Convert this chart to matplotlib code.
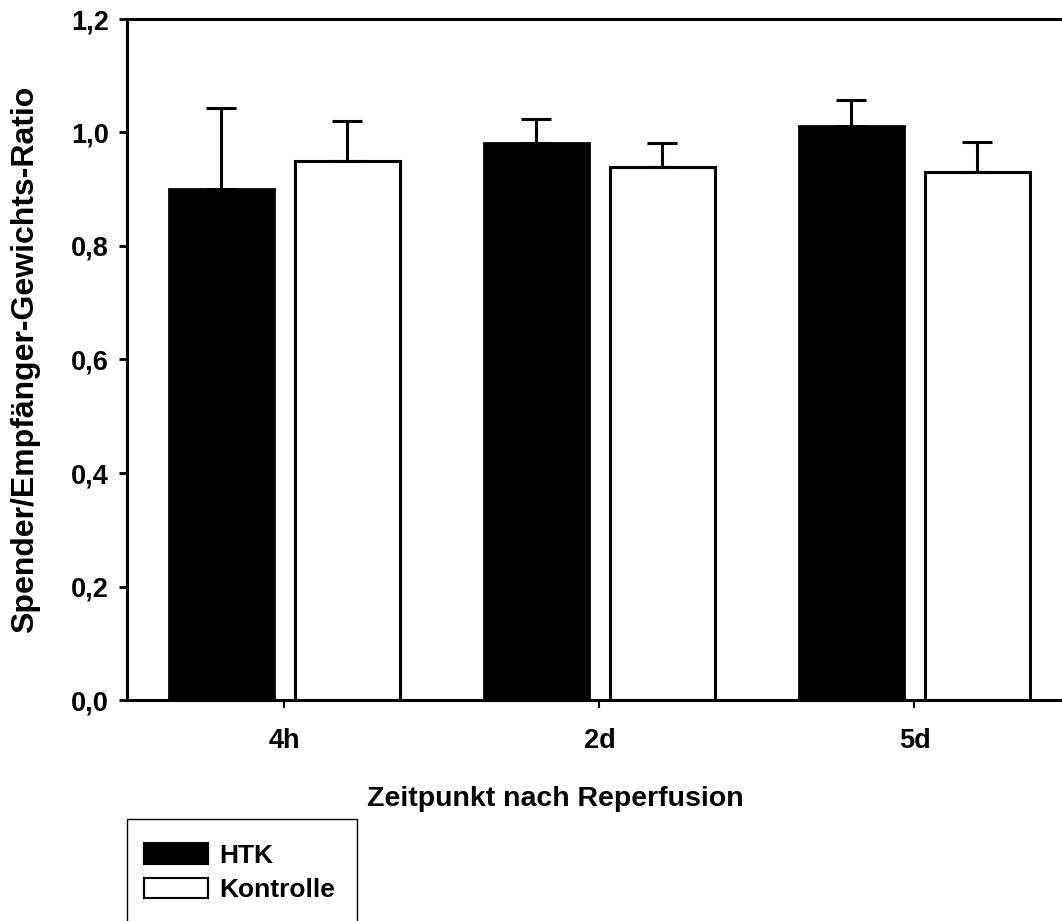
import numpy as np
import matplotlib.pyplot as plt
from matplotlib.patches import Rectangle, Patch

# values
categories = ["4h", "2d", "5d"]
htk_mean = [0.900, 0.981, 1.012]
htk_err = [0.143, 0.043, 0.046]
ctrl_mean = [0.949, 0.939, 0.930]
ctrl_err = [0.072, 0.043, 0.054]
yticks = [0.0, 0.2, 0.4, 0.6, 0.8, 1.0, 1.2]
ytick_labels = ["0,0", "0,2", "0,4", "0,6", "0,8", "1,0", "1,2"]

plt.rcParams["font.family"] = ["Liberation Sans", "DejaVu Sans"]
plt.rcParams["font.weight"] = "bold"

W, H = 1062, 921
fig = plt.figure(figsize=(W / 100, H / 100), dpi=100)
# axes runs past the right edge, as in the reference
ax = fig.add_axes([127 / W, (H - 700) / H, 945 / W, 681 / H])

x = np.arange(len(categories))
bw = 0.333
off = 0.2
ekw = dict(elinewidth=2.2, capthick=2.2, capsize=11)
ax.bar(x - off, htk_mean, bw, color="black", edgecolor="black", linewidth=2,
       yerr=[np.zeros(3), htk_err], error_kw=ekw, label="HTK")
ax.bar(x + off, ctrl_mean, bw, color="white", edgecolor="black", linewidth=2.2,
       yerr=[np.zeros(3), ctrl_err], error_kw=ekw, label="Kontrolle")

ax.set_xlim(-0.5, 2.5)
ax.set_ylim(0, 1.2)
ax.set_yticks(yticks)
ax.set_yticklabels(ytick_labels)
ax.set_xticks(x)
ax.set_xticklabels(categories)

for s in ["left", "top", "bottom"]:
    ax.spines[s].set_linewidth(2.2)
ax.spines["right"].set_visible(False)
ax.tick_params(axis="y", direction="out", length=6, width=2, pad=7, labelsize=19.5)
ax.tick_params(axis="x", direction="out", length=6, width=1.5, pad=14, labelsize=19.5)
for lab in ax.get_xticklabels() + ax.get_yticklabels():
    lab.set_fontweight("bold")

ax.set_ylabel("Spender/Empfänger-Gewichts-Ratio", fontsize=23, fontweight="bold")
ax.yaxis.set_label_coords(-87 / 945, 0.5)
ax.set_xlabel("Zeitpunkt nach Reperfusion", fontsize=20.5, fontweight="bold")
ax.xaxis.set_label_coords((555 - 127) / 945, -(786 - 700) / 681)

# legend box, clipped by the bottom edge
fig.patches.append(Rectangle((127 / W, -0.02), 230 / W, (H - 819) / H + 0.02,
                             transform=fig.transFigure, facecolor="white",
                             edgecolor="black", linewidth=1))
handles = [Patch(facecolor="black", edgecolor="black", linewidth=1.5),
           Patch(facecolor="white", edgecolor="black", linewidth=1.5)]
fig.legend(handles, ["HTK", "Kontrolle"], loc="upper left",
           bbox_to_anchor=(139 / W, 1 - 838 / H), frameon=False,
           prop={"size": 19, "weight": "bold"}, handlelength=2.4,
           handleheight=0.82, handletextpad=0.45, labelspacing=0.38,
           borderaxespad=0, borderpad=0.2)

fig.savefig("out.png", dpi=100)
